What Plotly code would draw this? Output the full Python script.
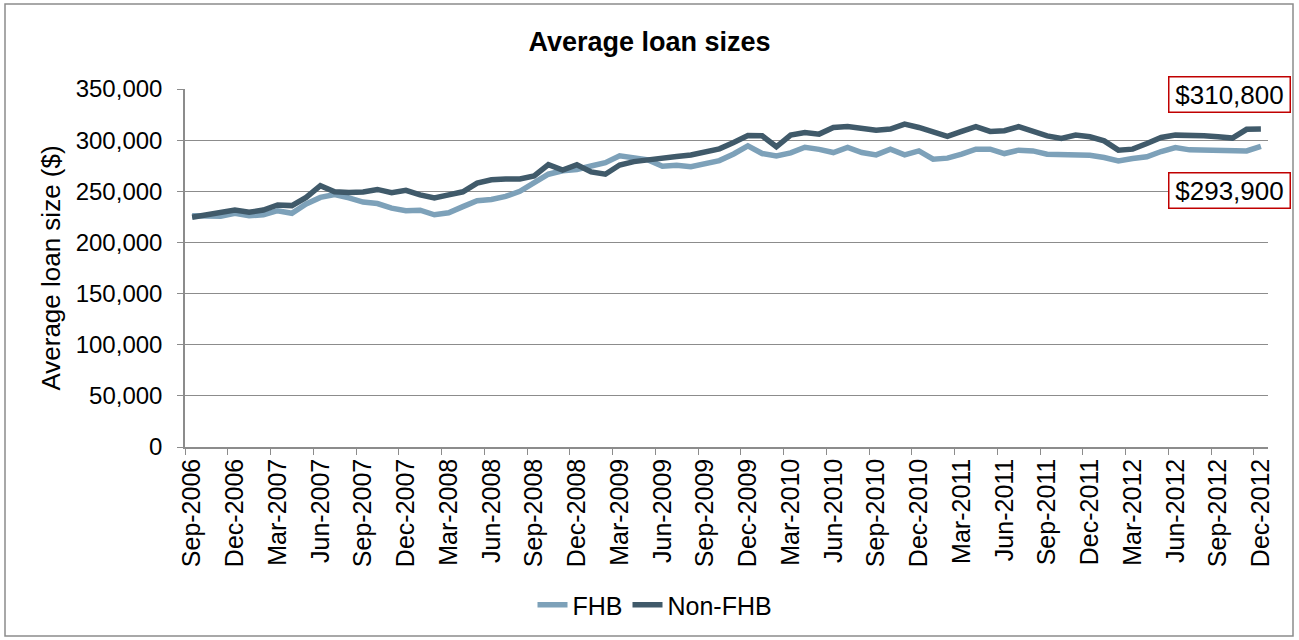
import plotly.graph_objects as go

# Monthly periods, Sep-2006 .. Dec-2012
months = []
_names = ["Jan", "Feb", "Mar", "Apr", "May", "Jun", "Jul", "Aug", "Sep", "Oct", "Nov", "Dec"]
_y, _m = 2006, 8
while (_y, _m) <= (2012, 11):
    months.append(f"{_names[_m]}-{_y}")
    _m += 1
    if _m == 12:
        _m, _y = 0, _y + 1

# Average loan size, first home buyers ($)
fhb = [226000, 226000, 225500, 228500, 226000, 227000, 231000, 228500, 237600, 244000,
       246700, 243500, 239500, 238000, 233500, 231000, 231500, 227000, 229000, 235000,
       240700, 242000, 245000, 250000, 259000, 266700, 270000, 271300, 274700, 278000,
       284700, 283000, 280700, 274500, 275500, 274000, 277000, 280000, 286500, 294400,
       286900, 284600, 287500, 293000, 291000, 287900, 292800, 287900, 285600, 291200,
       285600, 289500, 281400, 282400, 286300, 291200, 291200, 286900, 290200, 289500,
       286300, 286300, 285600, 285300, 283000, 279700, 282000, 283700, 288900, 292800,
       290500, 290200, 289500, 288900, 289500, 293900]

# Average loan size, non-first home buyers ($)
non_fhb = [224600, 227200, 228500, 231700, 229500, 231700, 236600, 236000, 244000, 255500,
           249500, 248700, 249300, 251800, 248700, 251000, 246500, 243400, 246500, 249500,
           258000, 261300, 262000, 262000, 265000, 276000, 270700, 276000, 269000, 266700,
           275700, 279000, 280700, 283000, 284000, 285500, 288500, 291500, 297700, 304500,
           304200, 293500, 304900, 307500, 305900, 312400, 313400, 311400, 309800, 310800,
           315700, 312400, 308500, 303600, 308500, 313100, 308500, 309200, 313100, 308500,
           304200, 301600, 304900, 303300, 299300, 290200, 291200, 296700, 302600, 304900,
           304900, 304200, 303300, 302000, 310600, 310800]

FHB_COLOR = "#7DA1B9"
NON_COLOR = "#405A6A"
GRID = "#8C8C8C"
FONT = "Liberation Sans, Arial, sans-serif"

W, H = 1299, 640
L, R, T, B = 185, 31, 89, 193
PW, PH = W - L - R, H - T - B


def px(x):
    return (x - L) / PW


def py(y):
    return (H - B - y) / PH


fig = go.Figure()
fig.add_trace(go.Scatter(x=months, y=fhb, name="FHB", mode="lines",
                         line=dict(color=FHB_COLOR, width=5.5)))
fig.add_trace(go.Scatter(x=months, y=non_fhb, name="Non-FHB", mode="lines",
                         line=dict(color=NON_COLOR, width=5.5)))

fig.update_layout(
    width=W, height=H,
    margin=dict(l=L, r=R, t=T, b=B),
    paper_bgcolor="white", plot_bgcolor="white",
    font=dict(family=FONT, size=24, color="black"),
    title=dict(text="<b>Average loan sizes</b>", x=0.5, xanchor="center",
               y=1 - 42 / H, yanchor="middle", font=dict(size=27)),
    showlegend=True,
    legend=dict(orientation="h", x=px(655), xanchor="center", y=py(605), yanchor="middle",
                font=dict(size=25), traceorder="normal"),
    xaxis=dict(type="category", tickmode="linear", tick0=0, dtick=3,
               tickson="boundaries", tickangle=-90, ticks="outside", ticklen=6,
               tickcolor=GRID, showline=True, linecolor=GRID, linewidth=1.5,
               showgrid=False, range=[-0.5, len(months) - 0.5],
               tickfont=dict(size=25)),
    yaxis=dict(range=[0, 350000], dtick=50000, tickformat=",", ticks="outside",
               ticklen=6, tickcolor=GRID, showline=True, linecolor=GRID, linewidth=1.5,
               showgrid=True, gridcolor=GRID, gridwidth=1.3, zeroline=False,
               ticklabelstandoff=10,
               title=dict(text="Average loan size ($)", font=dict(size=26), standoff=8),
               tickfont=dict(size=24)),
)

# Outer chart border
fig.add_shape(type="rect", xref="paper", yref="paper",
              x0=px(5), x1=px(1293), y0=py(636), y1=py(4),
              line=dict(color=GRID, width=1.5), layer="below")

# End-of-period value callouts
for val, yc in ((non_fhb[-1], 94), (fhb[-1], 190)):
    fig.add_annotation(xref="paper", yref="paper", x=px(1229), y=py(yc),
                       xanchor="center", yanchor="middle", showarrow=False,
                       text=f"${val:,}", font=dict(size=26, color="black"),
                       bgcolor="white", bordercolor="#C00000", borderwidth=1.5,
                       borderpad=2, width=116)

fig.write_html("out.html")
